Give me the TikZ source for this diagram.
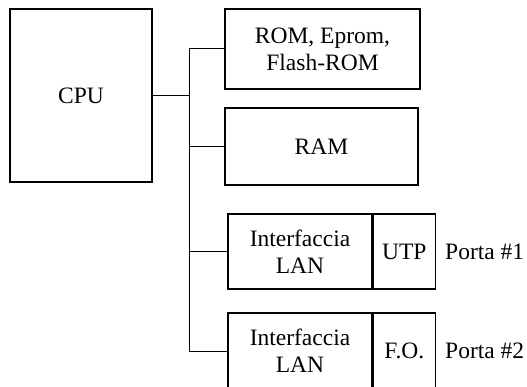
\documentclass[tikz,border=0pt]{standalone}
\usepackage{fontspec}
\setmainfont{Liberation Serif}
\begin{document}
\begin{tikzpicture}[x=1pt,y=-1pt,
  box/.style={draw,line width=1.3pt,rectangle,inner sep=0pt,align=center,
    font=\fontsize{23.5}{27}\selectfont},
  lbl/.style={inner sep=0pt,font=\fontsize{23.5}{27}\selectfont},
  wire/.style={line width=1pt}]
\useasboundingbox (0,0) rectangle (527,387);
\clip (0,0) rectangle (527,387);
\node[box,minimum width=142pt,minimum height=173pt] (cpu) at (81,95.5) {CPU};
\node[box,minimum width=195pt,minimum height=80pt] (rom) at (322.5,49) {ROM, Eprom,\\Flash-ROM};
\node[box,minimum width=193pt,minimum height=77pt] (ram) at (321.5,146.5) {RAM};
\node[box,minimum width=144pt,minimum height=75pt] (lan1) at (300,251.5) {Interfaccia\\LAN};
\node[box,minimum width=62pt,minimum height=75pt,anchor=west] (utp) at (lan1.east) {UTP};
\node[lbl,anchor=west] (p1) at (445,252) {Porta \#1};
\node[box,minimum width=144pt,minimum height=84pt] (lan2) at (300,355) {};
\node[box,minimum width=62pt,minimum height=84pt,anchor=west] (fo) at (lan2.east) {};
\node[box,draw=none] (t2) at (300,351) {Interfaccia\\LAN};
\node[box,draw=none] (t3) at (fo.center |- t2) {F.O.};
\node[lbl,anchor=west] (p2) at (445,351) {Porta \#2};
\coordinate (b1) at (189,49);
\coordinate (bc) at (189,96);
\coordinate (b2) at (189,146.5);
\coordinate (b3) at (189,251.5);
\coordinate (b4) at (189,351);
\draw[wire] (b1) -- (b4);
\draw[wire] (cpu.east |- bc) -- (bc);
\draw[wire] (b1) -- (rom.west);
\draw[wire] (b2) -- (ram.west);
\draw[wire] (b3) -- (lan1.west);
\draw[wire] (b4) -- (lan2.west |- b4);
\end{tikzpicture}
\end{document}
